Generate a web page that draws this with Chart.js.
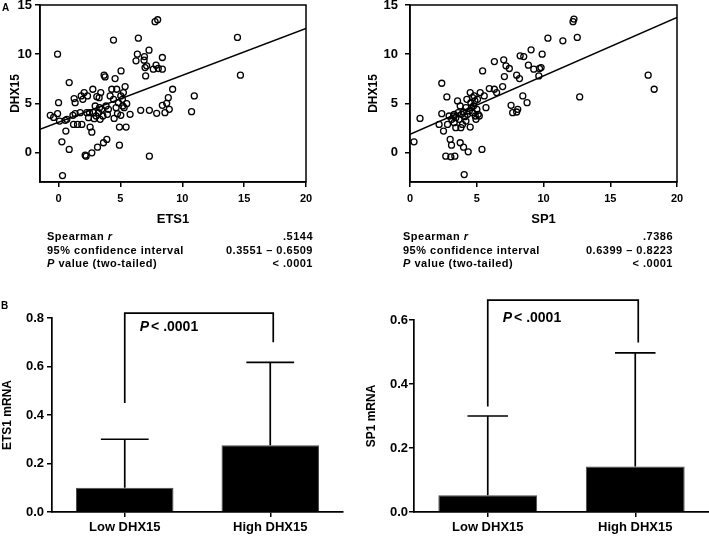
<!DOCTYPE html>
<html>
<head>
<meta charset="utf-8">
<script src="https://cdn.jsdelivr.net/npm/chart.js@4.4.1/dist/chart.umd.min.js"></script>
<style>
  body { margin: 0; background: #fff; }
  #fig { position: relative; width: 709px; height: 538px; overflow: hidden;
         font-family: "Liberation Sans", Arial, sans-serif; color: #000; }
  canvas { position: absolute; }
  .lab { position: absolute; font-weight: bold; font-size: 10px; line-height: 10px; }
  .stats { position: absolute; font-size: 11px; font-weight: bold; letter-spacing: 0.5px; line-height: 13.5px; }
  .stats div { display: flex; justify-content: space-between; white-space: nowrap; }
</style>
</head>
<body>
<div id="fig">
  <canvas id="scA" style="left:0;top:-10px" width="355" height="295"></canvas>
  <canvas id="scB" style="left:355px;top:-10px" width="354" height="295"></canvas>
  <canvas id="barA" style="left:0;top:285px" width="355" height="253"></canvas>
  <canvas id="barB" style="left:355px;top:285px" width="354" height="253"></canvas>
  <div class="lab" style="left:2px;top:3px">A</div>
  <div class="lab" style="left:1px;top:301px">B</div>
  <div class="stats" id="statsA" style="left:47px;top:230px;width:266px"></div>
  <div class="stats" id="statsB" style="left:403px;top:230px;width:270px"></div>
</div>
<script>
const FONT = '"Liberation Sans", Arial, sans-serif';

// scatter A: ETS1 vs DHX15
const ets1 = [-0.67,-0.40,-0.08,0,-0.08,0.08,0.27,0.32,0.54,0.59,0.86,0.86,0.67,1.16,1.26,1.34,1.34,1.21,1.53,1.75,
  1.83,1.88,1.96,2.07,2.15,2.23,2.28,2.34,2.42,2.50,2.55,2.69,2.77,2.69,2.82,2.88,2.96,3.04,3.09,3.15,
  3.23,3.28,3.31,3.36,3.41,3.49,3.58,3.63,3.68,3.76,3.84,3.90,3.95,4.03,4.17,4.30,4.44,4.57,4.44,4.49,
  4.65,4.70,4.76,4.84,4.92,4.92,5.03,5.03,5.05,5.16,5.19,5.24,5.30,5.38,5.46,5.51,5.78,6.26,6.37,6.45,
  6.64,6.91,6.94,6.99,7.04,7.12,7.31,7.34,7.34,7.66,7.80,8.01,7.93,7.88,8.06,8.39,8.39,8.39,8.60,8.74,
  8.87,8.95,9.22,10.75,10.97,14.46,14.70];
const dhx15A = [3.78,3.57,10.0,5.07,3.95,3.2,1.09,-2.35,3.27,2.18,7.11,0.31,3.37,3.78,5.48,5.07,3.95,2.86,2.86,4.05,
  5.75,2.86,5.41,6.09,-0.27,-0.37,4.05,5.75,3.54,4.05,2.59,2.07,6.43,-0.03,4.05,3.44,4.73,3.71,5.68,0.54,
  4.05,5.58,4.56,3.37,6.09,4.39,3.71,0.99,7.86,7.69,4.73,1.33,3.88,4.39,5.75,6.43,11.43,7.52,5.41,3.47,
  4.56,6.43,3.95,5.07,0.75,2.59,5.75,3.78,8.30,5.41,4.73,6.09,4.56,6.70,2.59,4.97,3.88,9.32,10.0,11.63,
  4.29,9.39,9.76,8.64,7.79,8.81,10.41,4.29,-0.37,8.47,13.30,13.50,3.98,8.88,8.54,8.47,9.66,4.80,4.05,5.0,
  5.58,4.39,6.43,4.15,5.75,11.70,7.86];
const fitA_x = [-1.5, 20];
const fitA_y = [2.35, 12.62];

// scatter B: SP1 vs DHX15
const sp1 = [0.30,0.75,2.18,2.38,2.38,2.51,2.68,2.76,2.81,2.93,3.01,3.06,3.11,3.13,3.26,3.31,3.36,3.43,3.43,3.56,
  3.61,3.68,3.76,3.76,3.81,3.86,3.93,4.01,4.01,4.06,4.11,4.19,4.26,4.31,4.36,4.44,4.51,4.51,4.56,4.61,
  4.69,4.69,4.76,4.81,4.86,4.89,5.01,5.06,5.11,5.19,5.26,5.39,5.44,5.56,5.69,5.94,6.32,6.32,6.49,6.94,
  7.02,7.07,7.19,7.44,7.57,7.69,7.99,7.99,8.07,8.20,8.25,8.45,8.52,8.77,8.87,9.07,9.27,9.65,9.70,9.82,
  9.90,10.33,11.45,12.21,12.28,12.53,12.71,17.84,18.29,3.31,4.19,4.94];
const dhx15B = [1.09,3.47,2.86,7.04,3.95,2.18,-0.37,5.65,2.86,3.71,1.33,-0.44,0.75,3.37,3.71,3.88,-0.37,3.54,2.52,5.24,
  4.05,3.37,0.99,4.73,2.52,3.88,2.86,4.12,0.54,-2.24,3.64,4.56,5.41,3.88,0.07,4.22,6.09,2.59,5.07,4.56,
  5.58,4.05,4.73,5.75,5.24,3.71,4.39,5.41,3.88,3.71,6.09,0.31,8.30,5.75,4.56,6.50,9.25,6.43,6.09,6.70,
  9.42,7.72,8.81,8.54,4.80,4.05,7.86,4.12,4.39,7.52,9.83,5.75,9.76,5.07,8.88,10.44,8.47,7.79,8.54,8.64,
  10.0,11.63,11.36,13.30,13.57,11.70,5.65,7.86,6.43,3.03,3.20,3.37];
const fitB_x = [0, 20];
const fitB_y = [1.84, 13.74];

const scatterXTicks = [0, 5, 10, 15, 20];
const scatterYTicks = [0, 5, 10, 15];

const statLabels = ['Spearman <i>r</i>', '95% confidence interval', '<i>P</i> value (two-tailed)'];
const statsA = ['.5144', '0.3551 \u2013 0.6509', '< .0001'];
const statsB = ['.7386', '0.6399 \u2013 0.8223', '< .0001'];

// bar charts
const groups = ['Low DHX15', 'High DHX15'];
const ets1Mean = [0.10, 0.275];
const ets1ErrTop = [0.30, 0.617];
const sp1Mean = [0.052, 0.142];
const sp1ErrTop = [0.30, 0.497];
const barTicksA = [0, 0.2, 0.4, 0.6, 0.8];
const barTicksB = [0, 0.2, 0.4, 0.6];
const bracketA = [0.45, 0.82, 0.70];   // left end, top, right end
const bracketB = [0.33, 0.662, 0.53];
const pTextY_A = 0.762;
const pTextY_B = 0.606;

function fillStats(id, vals) {
  document.getElementById(id).innerHTML = statLabels.map((l, i) =>
    '<div><span>' + l + '</span><span>' + vals[i].replace('<', '&lt;') + '</span></div>').join('');
}
fillStats('statsA', statsA);
fillStats('statsB', statsB);

const frame = {
  id: 'frame',
  afterDraw(chart) {
    const a = chart.chartArea, ctx = chart.ctx;
    ctx.save();
    ctx.strokeStyle = '#000';
    ctx.lineWidth = 1.5;
    ctx.strokeRect(a.left, a.top, a.right - a.left, a.bottom - a.top);
    ctx.restore();
  }
};

function zeroPad(s) { s.paddingTop = 0; s.paddingBottom = 0; s.paddingLeft = 0; s.paddingRight = 0; }

function scatterChart(id, xs, ys, fx, fy, xMin, xTitle, yW, yTitlePad, yLabPad, rightPad) {
  new Chart(document.getElementById(id), {
    type: 'scatter',
    data: {
      datasets: [{
        data: xs.map((x, i) => ({ x: x, y: ys[i] })),
        pointStyle: 'circle',
        pointRadius: 3,
        borderWidth: 1.3,
        borderColor: '#000',
        backgroundColor: 'rgba(0,0,0,0)'
      }, {
        data: fx.map((x, i) => ({ x: x, y: fy[i] })),
        showLine: true,
        pointRadius: 0,
        borderColor: '#000',
        borderWidth: 1.5
      }]
    },
    options: {
      responsive: false,
      animation: false,
      events: [],
      layout: { padding: { left: 0, top: 15, right: rightPad, bottom: 57 } },
      plugins: { legend: { display: false }, tooltip: { enabled: false } },
      scales: {
        x: {
          type: 'linear', min: xMin, max: 20,
          afterBuildTicks: s => { s.ticks = scatterXTicks.map(v => ({ value: v })); },
          afterFit: s => { s.height = 46; zeroPad(s); },
          border: { display: true, color: '#000', width: 1.5 },
          grid: { drawOnChartArea: false, drawTicks: true, tickLength: 5, color: '#000', lineWidth: 1.5 },
          ticks: { color: '#000', padding: 5, maxRotation: 0, font: { family: FONT, size: 11, weight: 'bold' } },
          title: { display: true, text: xTitle, color: '#000', padding: { top: 0, bottom: 1 },
                   font: { family: FONT, size: 13, weight: 'bold' } }
        },
        y: {
          type: 'linear', min: -3, max: 15,
          afterBuildTicks: s => { s.ticks = scatterYTicks.map(v => ({ value: v })); },
          afterFit: s => { s.width = yW; zeroPad(s); },
          border: { display: true, color: '#000', width: 1.5 },
          grid: { drawOnChartArea: false, drawTicks: true, tickLength: 5, color: '#000', lineWidth: 1.5 },
          ticks: { color: '#000', padding: yLabPad, font: { family: FONT, size: 13, weight: 'bold' } },
          title: { display: true, text: 'DHX15', color: '#000', padding: { top: yTitlePad, bottom: 0 },
                   font: { family: FONT, size: 12, weight: 'bold' } }
        }
      }
    },
    plugins: [frame]
  });
}

scatterChart('scA', ets1, dhx15A, fitA_x, fitA_y, -1.5, 'ETS1', 40, 8, 3, 49);
scatterChart('scB', sp1, dhx15B, fitB_x, fitB_y, 0, 'SP1', 55, 11, 7, 32);

function barExtras(means, errTops, bracket, pY, capFrac) {
  return {
    id: 'barExtras',
    afterDatasetsDraw(chart) {
      const ctx = chart.ctx, ys = chart.scales.y;
      const bars = chart.getDatasetMeta(0).data;
      ctx.save();
      ctx.strokeStyle = '#000';
      ctx.lineWidth = 1.7;
      bars.forEach((b, i) => {
        const half = b.width * capFrac / 2;
        const y0 = ys.getPixelForValue(means[i]);
        const y1 = ys.getPixelForValue(errTops[i]);
        ctx.beginPath();
        ctx.moveTo(b.x, y0); ctx.lineTo(b.x, y1);
        ctx.moveTo(b.x - half, y1); ctx.lineTo(b.x + half, y1);
        ctx.stroke();
      });
      const xl = bars[0].x, xr = bars[1].x + 3;
      ctx.beginPath();
      ctx.moveTo(xl, ys.getPixelForValue(bracket[0]));
      ctx.lineTo(xl, ys.getPixelForValue(bracket[1]));
      ctx.lineTo(xr, ys.getPixelForValue(bracket[1]));
      ctx.lineTo(xr, ys.getPixelForValue(bracket[2]));
      ctx.stroke();
      const ty = ys.getPixelForValue(pY);
      ctx.fillStyle = '#000';
      ctx.textBaseline = 'middle';
      ctx.textAlign = 'left';
      ctx.font = 'italic bold 14px ' + FONT;
      const tx = xl + 15;
      ctx.fillText('P', tx, ty);
      const pw = ctx.measureText('P').width;
      ctx.font = 'bold 14px ' + FONT;
      ctx.fillText('< .0001', tx + pw + 2, ty);
      ctx.restore();
    }
  };
}

function barChart(id, means, errTops, yMax, yTicks, yTitle, yW, yTitlePad, yLabPad, pad, capFrac, bracket, pY) {
  new Chart(document.getElementById(id), {
    type: 'bar',
    data: {
      labels: groups,
      datasets: [{
        data: means,
        backgroundColor: '#000',
        borderColor: '#4a4a4a',
        borderWidth: 1,
        barPercentage: 0.67,
        categoryPercentage: 1
      }]
    },
    options: {
      responsive: false,
      animation: false,
      events: [],
      layout: { padding: pad },
      plugins: { legend: { display: false }, tooltip: { enabled: false } },
      scales: {
        x: {
          afterFit: s => { s.height = 26; zeroPad(s); },
          border: { display: true, color: '#000', width: 1.7 },
          grid: { offset: false, drawOnChartArea: false, drawTicks: true, tickLength: 5, color: '#000', lineWidth: 1.5 },
          ticks: { color: '#000', padding: 3, font: { family: FONT, size: 13, weight: 'bold' } }
        },
        y: {
          min: 0, max: yMax,
          afterBuildTicks: s => { s.ticks = yTicks.map(v => ({ value: v })); },
          afterFit: s => { s.width = yW; zeroPad(s); },
          border: { display: true, color: '#000', width: 1.7 },
          grid: { drawOnChartArea: false, drawTicks: true, tickLength: 5, color: '#000', lineWidth: 1.5 },
          ticks: { color: '#000', padding: yLabPad, callback: v => v.toFixed(1),
                   font: { family: FONT, size: 13, weight: 'bold' } },
          title: { display: true, text: yTitle, color: '#000', padding: { top: yTitlePad, bottom: 0 },
                   font: { family: FONT, size: 12, weight: 'bold' } }
        }
      }
    },
    plugins: [barExtras(means, errTops, bracket, pY, capFrac)]
  });
}

barChart('barA', ets1Mean, ets1ErrTop, 0.8, barTicksA, 'ETS1 mRNA', 52, 0, 3,
  { left: 0, top: 33, right: 12, bottom: 0 }, 0.49, bracketA, pTextY_A);
barChart('barB', sp1Mean, sp1ErrTop, 0.6, barTicksB, 'SP1 mRNA', 59, 9.5, 1,
  { left: 0, top: 35, right: 0, bottom: 0 }, 0.41, bracketB, pTextY_B);
</script>
</body>
</html>
